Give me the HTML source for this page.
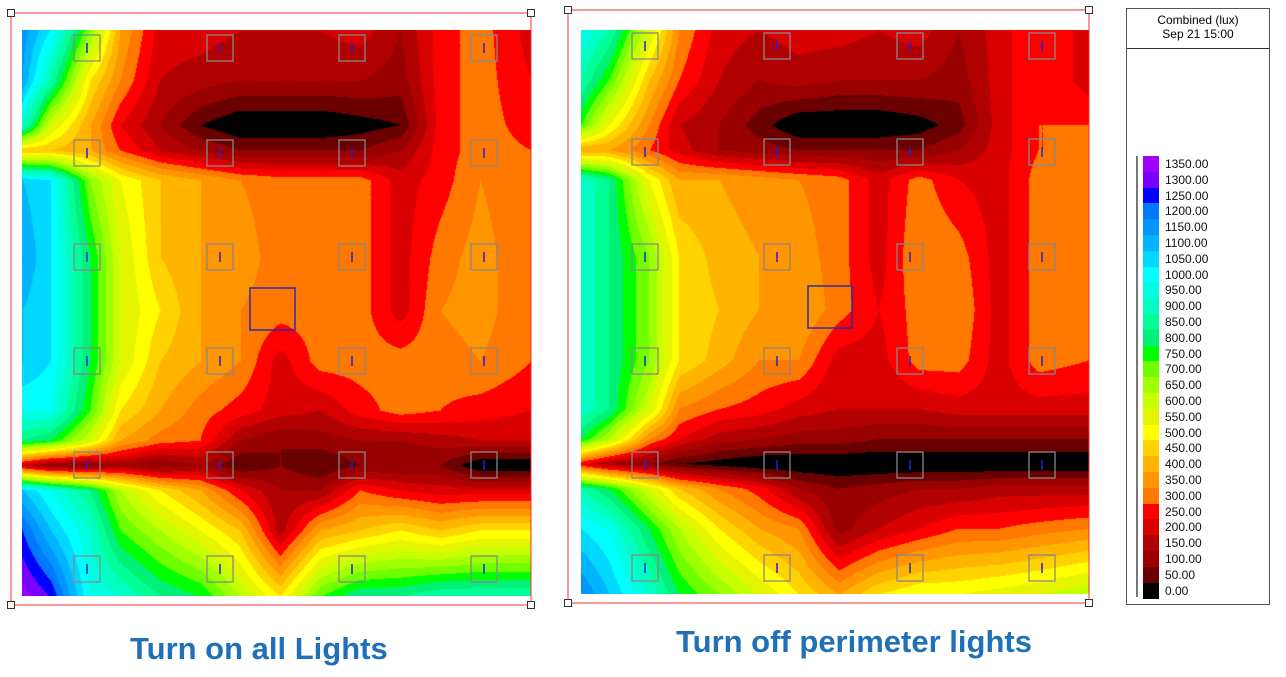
<!DOCTYPE html>
<html><head><meta charset="utf-8"><style>
body{margin:0;width:1286px;height:677px;background:#fff;position:relative;overflow:hidden;font-family:"Liberation Sans",sans-serif}
canvas{position:absolute}
.t{position:absolute;font-weight:bold;font-size:31px;color:#1f70b8;white-space:nowrap}
#leg{position:absolute;left:1126px;top:8px;width:144px;height:597px;border:1px solid #555;box-sizing:border-box}
#leg .h{height:40px;border-bottom:1px solid #333;text-align:center;font-size:12px;line-height:14px;padding-top:4px;box-sizing:border-box}
.lab{position:absolute;left:38px;font-size:12px;line-height:14px;color:#111}
.sw{position:absolute;left:16px;width:16px}
</style></head><body>
<canvas id="c1" width="509" height="566" style="left:22px;top:30px"></canvas>
<canvas id="c2" width="508" height="564" style="left:581px;top:30px"></canvas>
<svg width="1286" height="677" style="position:absolute;left:0;top:0" id="ov"></svg>
<div id="leg"><div class="h">Combined (lux)<br>Sep 21 15:00</div></div>
<div class="t" style="left:130px;top:631px">Turn on all Lights</div>
<div class="t" style="left:676px;top:624px">Turn off perimeter lights</div>
<script>
var C=["#000000","#6a0000","#990000","#b00000","#d80000","#ff0000","#ff7800","#ff9600","#ffb400","#ffd200","#ffff00","#e5f500","#c8ff00","#a0ff00","#70ff00","#00ff00","#00f078","#00ff96","#00ffc0","#00ffe0","#00ffff","#00d8ff","#00b4ff","#0096ff","#0078ff","#0000ff","#7800ff","#a000ff"];
var RGB=C.map(function(h){return[parseInt(h.substr(1,2),16),parseInt(h.substr(3,2),16),parseInt(h.substr(5,2),16)]});
var cx=[0,28,68,98,138,178,218,258,298,338,378,418,458,509];
var ry=[0,50,95,120,150,227,280,331,380,410,435,460,500,566];
var A=[
[23.5,21,14,8,4.5,4.5,4,4,4,4.5,3,5.5,6.5,4.5],
[23,18,10,7,4,3.5,3,3,3,3,2.5,5.5,6.5,5],
[19,12,8,5,3,1,0,0,0,0.5,1,5.5,6.5,5.5],
[9,9,8,6,4,3,2,2,2,2,3,5.5,6.5,6],
[22,21,14,11,9,8,7,6.5,6.5,6.5,4.5,5.5,7,6],
[23,21,16,12,9,8,7.5,6.5,6.5,6.5,4.5,6.5,7.5,6],
[22,21,16,12,10,8,7,6.5,6.5,6.5,4.5,7,7.5,6],
[22,21,16,12,9,8,7,4.5,6.5,6.5,6.5,6.5,7,6],
[20,20,15,10,8,6.5,5.5,4.5,4,5.5,6.5,6,5.5,5],
[17,16,12,8,6.5,6,3,2,2.5,3,3,3.5,4,4],
[4,2,2,3,2,3,1,2,1,2,2,2,0,0],
[22,20,17,13,10,8,5,3,3,6,5,4.5,4.5,4.5],
[25,22,19,15,13,11,9,3.5,8,9,10,9,10,10],
[27.5,26,20,19,17,16,13,10,15,17,17,18,18,18]];
var B=[
[20,18,12,7,4.5,4,4.5,4.5,4,4.5,3,4.5,6,4.5],
[18,15,9,6,4,3,3.5,3,3,3,2.5,4.5,6,4.5],
[15,11,7,4,3,1.5,0,0,0,0.5,1.5,4.5,6,6],
[8,8,6,4.5,3,2.5,2,2,2,2,3,4.5,6,6],
[19,17,11,8,8,7.5,7,6.5,4.5,6.5,5,4.5,6.5,6],
[19,17,14,10,8.5,8,7.5,6.5,4.5,7,6.5,4.5,6.5,6],
[19,17,14,10,9,8,8,6.5,5,6.5,7,4.5,6.5,6.5],
[19,17,14,10,8.5,7,7,4.5,4.5,6.5,6.5,4.5,6.5,6],
[19,17,12,7,6,5.5,4.5,4,4,4,4.5,4.5,4.5,4.5],
[16,13,7,5,3.5,3,2.5,2.5,2,2,2,2,2,2],
[5,3,2,1,0.5,0,0,0,0,0,0,0,0,0],
[18,16,12,9,7,5.5,3,2,2.5,3,3,3.5,3.5,3.5],
[21,20,16,13,10,8,7,2.5,4,5,6,6,6.5,7],
[24,22,19,16,14,12,10,8,10,11,11,11.5,12,13]];
function seg(a,v){for(var i=0;i<a.length-2;i++)if(v<a[i+1])return i;return a.length-2}
function draw(id,G){var cv=document.getElementById(id),w=cv.width,h=cv.height,ctx=cv.getContext("2d"),im=ctx.createImageData(w,h),d=im.data;
var sx=509/w,sy=566/h;
for(var y=0;y<h;y++){var Y=y*sy,j=seg(ry,Y),fy=(Y-ry[j])/(ry[j+1]-ry[j]);
for(var x=0;x<w;x++){var X=x*sx,i=seg(cx,X),fx=(X-cx[i])/(cx[i+1]-cx[i]);
var v=(G[j][i]*(1-fx)+G[j][i+1]*fx)*(1-fy)+(G[j+1][i]*(1-fx)+G[j+1][i+1]*fx)*fy;
var k=Math.max(0,Math.min(27,Math.floor(v))),c=RGB[k],p=(y*w+x)*4;d[p]=c[0];d[p+1]=c[1];d[p+2]=c[2];d[p+3]=255;}}
ctx.putImageData(im,0,0);}
draw("c1",A);draw("c2",B);
var s="";
function frame(x1,y1,x2,y2){s+='<rect x="'+x1+'" y="'+y1+'" width="'+(x2-x1)+'" height="'+(y2-y1)+'" fill="none" stroke="#f03030" stroke-width="1"/>';
[[x1,y1],[x2,y1],[x1,y2],[x2,y2]].forEach(function(p){s+='<rect x="'+(p[0]-3.5)+'" y="'+(p[1]-3.5)+'" width="7" height="7" fill="#fff" stroke="#333"/>'});}
frame(11,13,531,605);frame(568,10,1089,603);
function lums(xs,ys){xs.forEach(function(x){ys.forEach(function(y){s+='<rect x="'+(x-13)+'" y="'+(y-13)+'" width="26" height="26" fill="none" stroke="#888" stroke-width="1.3"/><line x1="'+x+'" y1="'+(y-5)+'" x2="'+x+'" y2="'+(y+5)+'" stroke="#2020e0" stroke-width="1.5"/>'})})}
lums([87,220,352,484],[48,153,257,361,465,569]);
lums([645,777,910,1042],[46,152,257,361,465,568]);
s+='<rect x="250" y="288" width="45" height="42" fill="none" stroke="#2a2ab0" stroke-width="1.5"/>';
s+='<rect x="808" y="286" width="44" height="42" fill="none" stroke="#2a2ab0" stroke-width="1.5"/>';
s+='<line x1="1137" y1="156" x2="1137" y2="597" stroke="#777" stroke-width="2"/>';
document.getElementById("ov").innerHTML=s;
var L=document.getElementById("leg"),top0=147,st=15.8,hh="";
for(var n=27;n>=0;n--){var yy=top0+(27-n)*st;hh+='<div class="sw" style="top:'+yy+'px;height:'+(st+0.5)+'px;background:'+C[n]+'"></div><div class="lab" style="top:'+(yy+1)+'px">'+(n*50).toFixed(2)+'</div>';}
L.innerHTML+=hh;
</script>
</body></html>
